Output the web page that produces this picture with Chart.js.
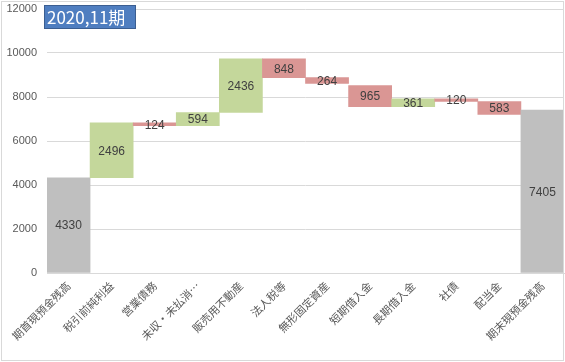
<!DOCTYPE html>
<html>
<head>
<meta charset="utf-8">
<script src="https://cdn.jsdelivr.net/npm/chart.js@4/dist/chart.umd.min.js"></script>
<style>
  html, body { margin: 0; padding: 0; background: #fff; }
  #wrap { position: relative; width: 565px; height: 362px; }
  #frame { position: absolute; left: 1px; top: 1px; width: 561px; height: 358px; border: 1px solid #D9D9D9; pointer-events: none; }
  #title {
    position: absolute; left: 44px; top: 5px; width: 88px; height: 22px;
    background: #4F7EC0; border: 1px solid #3B5E91; color: #fff;
    font: 17px "Noto Sans CJK JP", sans-serif; line-height: 22px; padding-left: 2px;
  }
</style>
</head>
<body>
<div id="wrap">
  <canvas id="c" width="565" height="362"></canvas>
  <div id="frame"></div>
  <div id="title">2020,11期</div>
</div>
<script>
// waterfall items, values as shown on the bars
const items = ['期首現預金残高', '税引前純利益', '営業債務', '未収・未払消…', '販売用不動産', '法人税等',
  '無形固定資産', '短期借入金', '長期借入金', '社債', '配当金', '期末現預金残高'];
const amounts = [4330, 2496, 124, 594, 2436, 848, 264, 965, 361, 120, 583, 7405];
// bottom of each bar
const bases = [0, 4330, 6702, 6702, 7296, 8884, 8620, 7555, 7555, 7796, 7213, 0];
const kinds = ['total', 'up', 'down', 'up', 'up', 'down', 'down', 'down', 'up', 'down', 'down', 'total'];
const yTicks = [0, 2000, 4000, 6000, 8000, 10000, 12000];

const colors = { total: '#BFBFBF', up: '#C4D79B', down: '#DA9694' };

const valueLabels = {
  id: 'valueLabels',
  afterDatasetsDraw(chart) {
    const ctx = chart.ctx;
    const meta = chart.getDatasetMeta(0);
    ctx.save();
    ctx.font = '12px "Liberation Sans", sans-serif';
    ctx.fillStyle = '#404040';
    ctx.textAlign = 'center';
    ctx.textBaseline = 'middle';
    meta.data.forEach((bar, i) => {
      const mid = (bar.y + bar.base) / 2;
      ctx.fillText(String(amounts[i]), bar.x, mid + 1);
    });
    ctx.restore();
  }
};

new Chart(document.getElementById('c'), {
  type: 'bar',
  data: {
    labels: items,
    datasets: [{
      data: amounts.map((v, i) => [bases[i], bases[i] + v]),
      backgroundColor: kinds.map(k => colors[k]),
      borderWidth: 0,
      categoryPercentage: 1,
      barPercentage: 1
    }]
  },
  options: {
    responsive: false,
    animation: false,
    layout: { padding: { left: 0, right: 1, top: 9, bottom: 0 } },
    plugins: { legend: { display: false }, tooltip: { enabled: false } },
    scales: {
      x: {
        grid: { display: false, drawTicks: false },
        border: { color: '#D9D9D9' },
        ticks: {
          minRotation: 45, maxRotation: 45, autoSkip: false,
          color: '#595959', padding: 6,
          font: { family: '"Noto Sans CJK JP", sans-serif', size: 11 }
        },
        afterFit(s) { s.height = 89; s.paddingLeft = 0; s.paddingRight = 0; }
      },
      y: {
        min: 0, max: 12000,
        afterBuildTicks(s) { s.ticks = yTicks.map(v => ({ value: v })); },
        grid: { color: '#D9D9D9', drawTicks: false },
        border: { display: false },
        ticks: {
          color: '#595959', padding: 10,
          font: { family: '"Liberation Sans", sans-serif', size: 11 },
          callback: v => String(v)
        },
        afterFit(s) { s.width = 47; s.paddingTop = 0; s.paddingBottom = 0; }
      }
    }
  },
  plugins: [valueLabels]
});
</script>
</body>
</html>
